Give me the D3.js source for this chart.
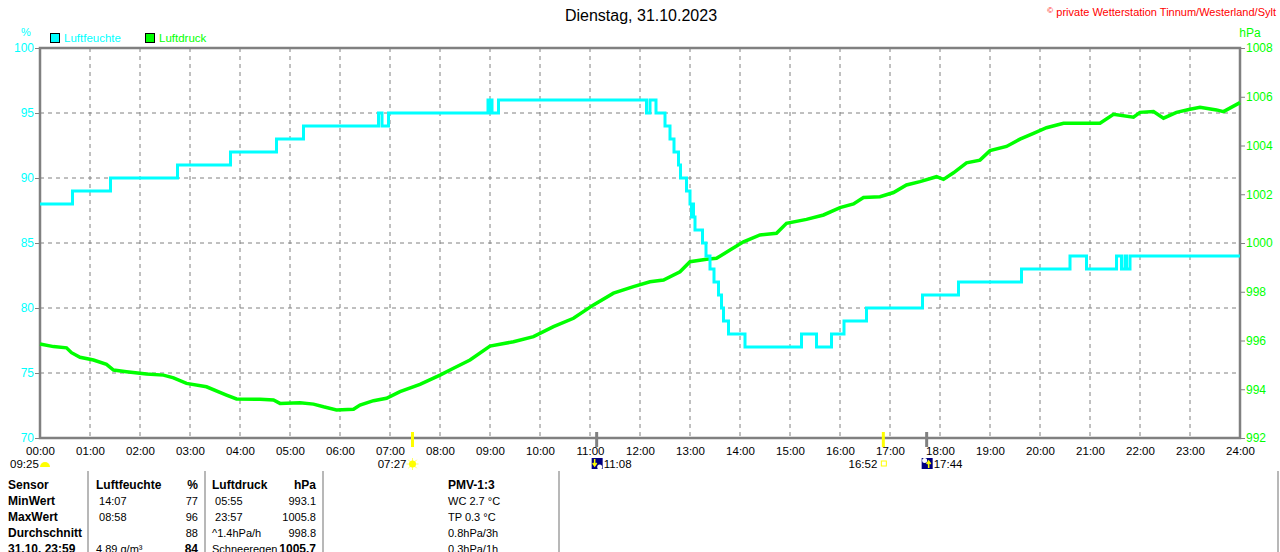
<!DOCTYPE html>
<html>
<head>
<meta charset="utf-8">
<script src="https://cdn.jsdelivr.net/npm/d3@7"></script>
<style>
body { margin: 0; background: #fff; }
svg { display: block; font-family: "Liberation Sans", Arial, sans-serif; }
</style>
</head>
<body>
<div id="chart"></div>
<script>
var W = 1280, H = 552,
	pLeft = 40, pRight = 1240, pTop = 48, pBottom = 438;

// Luftfeuchte (%), step values, time in hours
var humTime = [0, 0.65, 1.41, 2.75, 3.81, 4.73, 5.27, 6.77, 6.84, 6.97, 8.96, 8.99, 9.01, 9.04, 9.17,
	12.13, 12.2, 12.32, 12.5, 12.6, 12.68, 12.77, 12.81, 12.93, 13.0, 13.03, 13.05, 13.07, 13.1,
	13.25, 13.32, 13.4, 13.48, 13.57, 13.63, 13.67, 13.77, 14.1, 15.23, 15.53, 15.83, 16.08,
	16.53, 17.65, 18.37, 19.63, 20.6, 20.93, 21.53, 21.63, 21.7, 21.73, 21.8, 24];
var humVal = [88, 89, 90, 91, 92, 93, 94, 95, 94, 95, 96, 95, 96, 95, 96,
	95, 96, 95, 94, 93, 92, 91, 90, 89, 88, 87, 88, 87, 86,
	85, 84, 83, 82, 81, 80, 79, 78, 77, 78, 77, 78, 79,
	80, 81, 82, 83, 84, 83, 84, 83, 84, 83, 84, 84];

// Luftdruck (hPa)
var pressTime = [0, 0.27, 0.53, 0.63, 0.8, 1.07, 1.33, 1.47, 1.73, 2.13,
	2.47, 2.67, 2.93, 3.33, 3.73, 3.93, 4.4, 4.67, 4.8, 5.2,
	5.47, 5.67, 5.93, 6.27, 6.4, 6.67, 6.93, 7.2, 7.6, 8.0,
	8.27, 8.6, 9.0, 9.47, 9.87, 10.27, 10.67, 11.07, 11.47, 11.87,
	12.2, 12.47, 12.8, 13.0, 13.33, 13.53, 13.8, 14.07, 14.4, 14.73,
	14.93, 15.33, 15.67, 16.0, 16.27, 16.47, 16.8, 17.07, 17.33, 17.6,
	17.93, 18.07, 18.27, 18.53, 18.8, 19.0, 19.33, 19.6, 19.87, 20.13,
	20.47, 20.8, 21.2, 21.47, 21.87, 22.0, 22.27, 22.47, 22.73, 23.0,
	23.2, 23.53, 23.67, 24.0];
var pressVal = [995.86, 995.75, 995.7, 995.5, 995.31, 995.2, 995.02, 994.79, 994.72, 994.63,
	994.58, 994.47, 994.24, 994.1, 993.76, 993.6, 993.59, 993.56, 993.42, 993.45,
	993.39, 993.28, 993.15, 993.18, 993.35, 993.53, 993.63, 993.9, 994.2, 994.58,
	994.86, 995.2, 995.77, 995.95, 996.16, 996.57, 996.91, 997.46, 997.94, 998.21,
	998.41, 998.48, 998.82, 999.23, 999.33, 999.37, 999.71, 1000.05, 1000.33, 1000.4,
	1000.81, 1000.97, 1001.15, 1001.45, 1001.6, 1001.87, 1001.9, 1002.07, 1002.38, 1002.52,
	1002.72, 1002.61, 1002.88, 1003.29, 1003.4, 1003.79, 1003.96, 1004.26, 1004.5, 1004.73,
	1004.91, 1004.91, 1004.91, 1005.28, 1005.16, 1005.36, 1005.39, 1005.12, 1005.36, 1005.49,
	1005.57, 1005.46, 1005.39, 1005.76];

var humTicks = [70, 75, 80, 85, 90, 95, 100];
var pressTicks = [992, 994, 996, 998, 1000, 1002, 1004, 1006, 1008];
var hourTicks = d3.range(0, 25);

// sun / moon events
var sunTimes = ['07:27', '16:52'];
var moonTimes = ['11:08', '17:44'];

// table
var tableRows = ['Sensor', 'MinWert', 'MaxWert', 'Durchschnitt', '31.10. 23:59'];
var humCol = ['Luftfeuchte', ' 14:07', ' 08:58', '', '4.89 g/m³'];
var humUnit = ['%', '77', '96', '88', '84'];
var pressCol = ['Luftdruck', ' 05:55', ' 23:57', '^1.4hPa/h', 'Schneeregen'];
var pressUnit = ['hPa', '993.1', '1005.8', '998.8', '1005.7'];
var pmvCol = ['PMV-1:3', 'WC 2.7 °C', 'TP 0.3 °C', '0.8hPa/3h', '0.3hPa/1h'];

var cyan = '#00ffff', green = '#00ff00', grey = '#808080';

var svg = d3.select('#chart').append('svg')
	.attr('width', W)
	.attr('height', H);

var x = d3.scaleLinear().domain([0, 24]).range([pLeft, pRight]);
var yH = d3.scaleLinear().domain([70, 100]).range([pBottom, pTop]);
var yP = d3.scaleLinear().domain([992, 1008]).range([pBottom, pTop]);

function toHours(s) {
	var p = s.split(':');
	return +p[0] + p[1] / 60;
}

// grid
svg.append('g')
	.selectAll('line')
	.data(hourTicks.slice(1, 24))
	.enter().append('line')
	.attr('x1', x).attr('x2', x)
	.attr('y1', pTop).attr('y2', pBottom)
	.style('stroke', grey).style('stroke-dasharray', '4,4');
svg.append('g')
	.selectAll('line')
	.data(humTicks.slice(1, 6))
	.enter().append('line')
	.attr('x1', pLeft).attr('x2', pRight)
	.attr('y1', yH).attr('y2', yH)
	.style('stroke', grey).style('stroke-dasharray', '4,4');

// left axis
var gl = svg.append('g')
	.attr('transform', 'translate(' + pLeft + ',0)')
	.call(d3.axisLeft(yH).tickValues(humTicks).tickSize(5).tickPadding(1));
gl.select('.domain').remove();
gl.selectAll('line').style('stroke', grey);
gl.selectAll('text').style('fill', cyan).style('font-size', '12px');

// right axis
var gr = svg.append('g')
	.attr('transform', 'translate(' + pRight + ',0)')
	.call(d3.axisRight(yP).tickValues(pressTicks).tickSize(5).tickPadding(1)
		.tickFormat(d3.format('d')));
gr.select('.domain').remove();
gr.selectAll('line').style('stroke', grey);
gr.selectAll('text').style('fill', green).style('font-size', '12px');

// bottom axis
var gb = svg.append('g')
	.attr('transform', 'translate(0,' + pBottom + ')')
	.call(d3.axisBottom(x).tickValues(hourTicks).tickSize(0).tickPadding(9)
		.tickFormat(function(d) { return (d < 10 ? '0' : '') + d + ':00'; }));
gb.select('.domain').remove();
gb.selectAll('text').style('fill', '#000').style('font-size', '11.5px');

// frame
svg.append('path')
	.attr('d', 'M' + pLeft + ',' + pTop + 'H' + pRight + 'V' + pBottom + 'H' + pLeft + 'Z')
	.style('fill', 'none').style('stroke', grey).style('stroke-width', 2.5);

// lines
var pressLine = d3.line()
	.x(function(d, i) { return x(pressTime[i]); })
	.y(function(d) { return yP(d); });
svg.append('path')
	.attr('d', pressLine(pressVal))
	.style('fill', 'none').style('stroke', green).style('stroke-width', 3.5);

var humLine = d3.line()
	.curve(d3.curveStepAfter)
	.x(function(d, i) { return x(humTime[i]); })
	.y(function(d) { return yH(d); });
svg.append('path')
	.attr('d', humLine(humVal))
	.style('fill', 'none').style('stroke', cyan).style('stroke-width', 3);

// title & header
svg.append('text').attr('x', 641).attr('y', 21).attr('text-anchor', 'middle')
	.style('font-size', '16px').text('Dienstag, 31.10.2023');
var cp = svg.append('text').attr('x', 1276).attr('y', 16).attr('text-anchor', 'end')
	.style('font-size', '11px').style('fill', '#ff0000');
cp.append('tspan').style('font-size', '8px').attr('dy', -3).text('©');
cp.append('tspan').attr('dy', 3).text(' private Wetterstation Tinnum/Westerland/Sylt');

svg.append('text').attr('x', 26).attr('y', 36).attr('text-anchor', 'middle')
	.style('font-size', '11px').style('fill', cyan).text('%');
svg.append('text').attr('x', 1250).attr('y', 37).attr('text-anchor', 'middle')
	.style('font-size', '12px').style('fill', green).text('hPa');

// legend
var legend = [['Luftfeuchte', cyan, 50], ['Luftdruck', green, 145]];
legend.forEach(function(l) {
	svg.append('rect').attr('x', l[2] + 0.5).attr('y', 33.5).attr('width', 9).attr('height', 9)
		.style('fill', l[1]).style('stroke', '#000');
	svg.append('text').attr('x', l[2] + 14).attr('y', 42)
		.style('font-size', '11.5px').style('fill', l[1]).text(l[0]);
});

// sun / moon markers
svg.append('text').attr('x', 10).attr('y', 468).style('font-size', '11.5px').text('09:25');
svg.append('path')
	.attr('d', 'M40,467 A5,5 0 0 1 50,467 Z')
	.style('fill', '#ffff00');

sunTimes.forEach(function(t, i) {
	var px = x(toHours(t));
	svg.append('line').attr('x1', px).attr('x2', px).attr('y1', 432).attr('y2', 447)
		.style('stroke', '#ffff00').style('stroke-width', 3);
	svg.append('text').attr('x', px - 6).attr('y', 468).attr('text-anchor', 'end')
		.style('font-size', '11.5px').text(t);
	if (i == 0) {
		var g = svg.append('g').attr('transform', 'translate(' + px + ',464)');
		g.selectAll('line').data(d3.range(8)).enter().append('line')
			.attr('x1', 0).attr('y1', 0)
			.attr('x2', function(d) { return 6 * Math.cos(d * Math.PI / 4); })
			.attr('y2', function(d) { return 6 * Math.sin(d * Math.PI / 4); })
			.style('stroke', '#ffff66').style('stroke-width', 1);
		g.append('circle').attr('r', 3.5).style('fill', '#ffff00');
	} else {
		svg.append('rect').attr('x', px - 2).attr('y', 461).attr('width', 5).attr('height', 5)
			.style('fill', 'none').style('stroke', '#ffff00');
	}
});

moonTimes.forEach(function(t, i) {
	var px = x(toHours(t));
	svg.append('line').attr('x1', px).attr('x2', px).attr('y1', 432).attr('y2', 447)
		.style('stroke', grey).style('stroke-width', 3);
	var g = svg.append('g').attr('transform', 'translate(' + (px - 5) + ',458)');
	g.append('rect').attr('width', 11).attr('height', 11).style('fill', '#000080');
	g.append('circle').attr('cx', i == 0 ? 8 : 3).attr('cy', i == 0 ? 9 : 2.5).attr('r', 2.5).style('fill', '#fff');
	g.append('path')
		.attr('d', i == 0 ? 'M3,1 V7 M1,5 L3,8 L5,5' : 'M7,10 V4 M5,6 L7,3 L9,6')
		.style('fill', 'none').style('stroke', '#ffff00').style('stroke-width', 1.5);
	svg.append('text').attr('x', px + 7).attr('y', 468).style('font-size', '11.5px').text(t);
});

// table
[88, 205, 323, 559, 1278].forEach(function(sx) {
	svg.append('line').attr('x1', sx).attr('x2', sx).attr('y1', 471).attr('y2', H)
		.style('stroke', '#a0a0a0').style('stroke-width', 1.5);
});

var rowY = function(i) { return 489 + i * 16; };
function col(data, xp, anchor, boldFn) {
	svg.append('g').selectAll('text')
		.data(data)
		.enter().append('text')
		.attr('x', xp)
		.attr('y', function(d, i) { return rowY(i); })
		.attr('text-anchor', anchor)
		.style('white-space', 'pre')
		.style('font-size', function(d, i) { return boldFn(i) ? '12px' : '11px'; })
		.style('font-weight', function(d, i) { return boldFn(i) ? 'bold' : 'normal'; })
		.text(function(d) { return d; });
}
col(tableRows, 8, 'start', function() { return true; });
col(humCol, 96, 'start', function(i) { return i == 0; });
col(humUnit, 198, 'end', function(i) { return i == 0 || i == 4; });
col(pressCol, 212, 'start', function(i) { return i == 0; });
col(pressUnit, 316, 'end', function(i) { return i == 0 || i == 4; });
col(pmvCol, 448, 'start', function(i) { return i == 0; });
</script>
</body>
</html>
